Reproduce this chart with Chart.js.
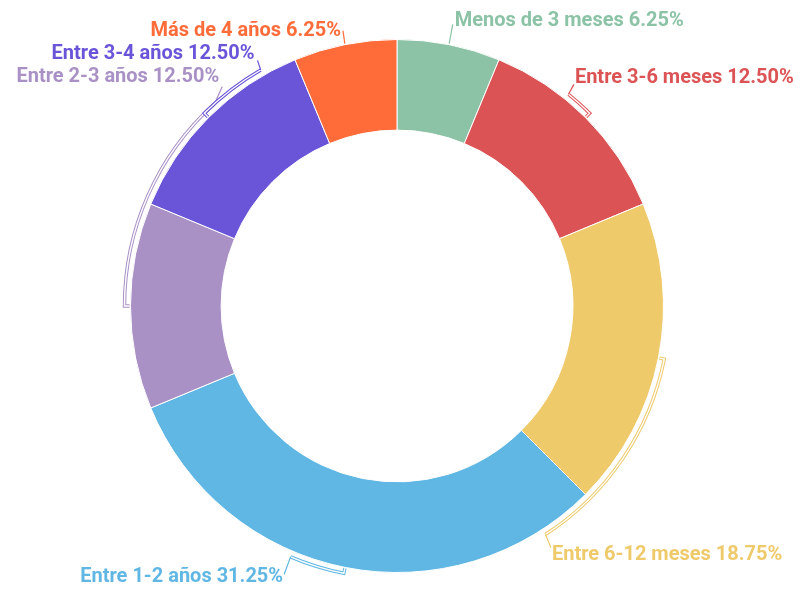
<!DOCTYPE html>
<html>
<head>
<meta charset="utf-8">
<script src="https://cdn.jsdelivr.net/npm/chart.js@4"></script>
<style>
  html, body { margin: 0; padding: 0; background: #fff; }
  #wrap { width: 800px; height: 593px; }
</style>
</head>
<body>
<div id="wrap"><canvas id="donut"></canvas></div>
<script>
// Data
const categories = ['Menos de 3 meses', 'Entre 3-6 meses', 'Entre 6-12 meses', 'Entre 1-2 años', 'Entre 2-3 años', 'Entre 3-4 años', 'Más de 4 años'];
const shares = [6.25, 12.5, 18.75, 31.25, 12.5, 12.5, 6.25];
const colors = ['#8cc3a6', '#dc5356', '#efca6b', '#60b7e4', '#a991c6', '#6a55d9', '#ff6b39'];

// label leader layout: arc end (deg from top, clockwise), anchor angle/radius factor, text offset
const leaders = [
  { end: null, aAng: 11.2, aR: 1.077, dx: 2, dy: -3, align: 'left' },
  { end: 39, aAng: 38.6, aR: 1.064, dx: 1, dy: -6, align: 'left' },
  { end: 147, aAng: 147.5, aR: 1.075, dx: 1, dy: 7, align: 'left' },
  { end: 203, aAng: 202.8, aR: 1.093, dx: -1, dy: 2, align: 'right' },
  { end: 318, aAng: 321.5, aR: 1.053, dx: -3, dy: -9, align: 'right' },
  { end: 330, aAng: 330.4, aR: 1.06, dx: -3, dy: -6, align: 'right' },
  { end: null, aAng: 348.9, aR: 1.053, dx: -2, dy: 0, align: 'right' }
];

const toRad = deg => deg * Math.PI / 180 - Math.PI / 2;

const leaderLabels = {
  id: 'leaderLabels',
  afterDatasetsDraw(chart) {
    const ctx = chart.ctx;
    const meta = chart.getDatasetMeta(0);
    meta.data.forEach((arc, i) => {
      const p = arc.getProps(['x', 'y', 'startAngle', 'endAngle', 'outerRadius'], true);
      const l = leaders[i];
      const mid = (p.startAngle + p.endAngle) / 2;
      const r = p.outerRadius;
      const gap = 6;
      const endA = l.end === null ? mid : toRad(l.end);
      const ax = p.x + Math.cos(toRad(l.aAng)) * r * l.aR;
      const ay = p.y + Math.sin(toRad(l.aAng)) * r * l.aR;
      const ex = p.x + Math.cos(endA) * (r + gap);
      const ey = p.y + Math.sin(endA) * (r + gap);

      ctx.save();
      ctx.lineJoin = 'miter';
      if (l.end !== null) {
        // hollow bracket along the ring
        ctx.beginPath();
        ctx.moveTo(p.x + Math.cos(mid) * (r + 1), p.y + Math.sin(mid) * (r + 1));
        ctx.lineTo(p.x + Math.cos(mid) * (r + gap), p.y + Math.sin(mid) * (r + gap));
        ctx.arc(p.x, p.y, r + gap, mid, endA, endA < mid);
        ctx.strokeStyle = colors[i];
        ctx.lineWidth = 3.4;
        ctx.stroke();
        ctx.strokeStyle = '#ffffff';
        ctx.lineWidth = 1.4;
        ctx.stroke();
        ctx.beginPath();
        ctx.moveTo(ex, ey);
      } else {
        ctx.beginPath();
        ctx.moveTo(p.x + Math.cos(mid) * (r + 1), p.y + Math.sin(mid) * (r + 1));
      }
      ctx.lineTo(ax, ay);
      ctx.strokeStyle = colors[i];
      ctx.lineWidth = 1.2;
      ctx.stroke();

      ctx.fillStyle = colors[i];
      ctx.font = 'bold 20px Roboto';
      ctx.textAlign = l.align;
      ctx.textBaseline = 'middle';
      const txt = categories[i] + ' ' + shares[i].toFixed(2) + '%';
      ctx.fillText(txt, ax + l.dx, ay + l.dy);
      ctx.restore();
    });
  }
};

new Chart(document.getElementById('donut'), {
  type: 'doughnut',
  data: {
    labels: categories,
    datasets: [{
      data: shares,
      backgroundColor: colors,
      borderColor: '#ffffff',
      borderWidth: 1
    }]
  },
  options: {
    responsive: true,
    maintainAspectRatio: false,
    animation: false,
    cutout: '66%',
    layout: { padding: { left: 130, right: 136, top: 39, bottom: 20 } },
    plugins: {
      legend: { display: false },
      tooltip: { enabled: false }
    }
  },
  plugins: [leaderLabels]
});
</script>
</body>
</html>
